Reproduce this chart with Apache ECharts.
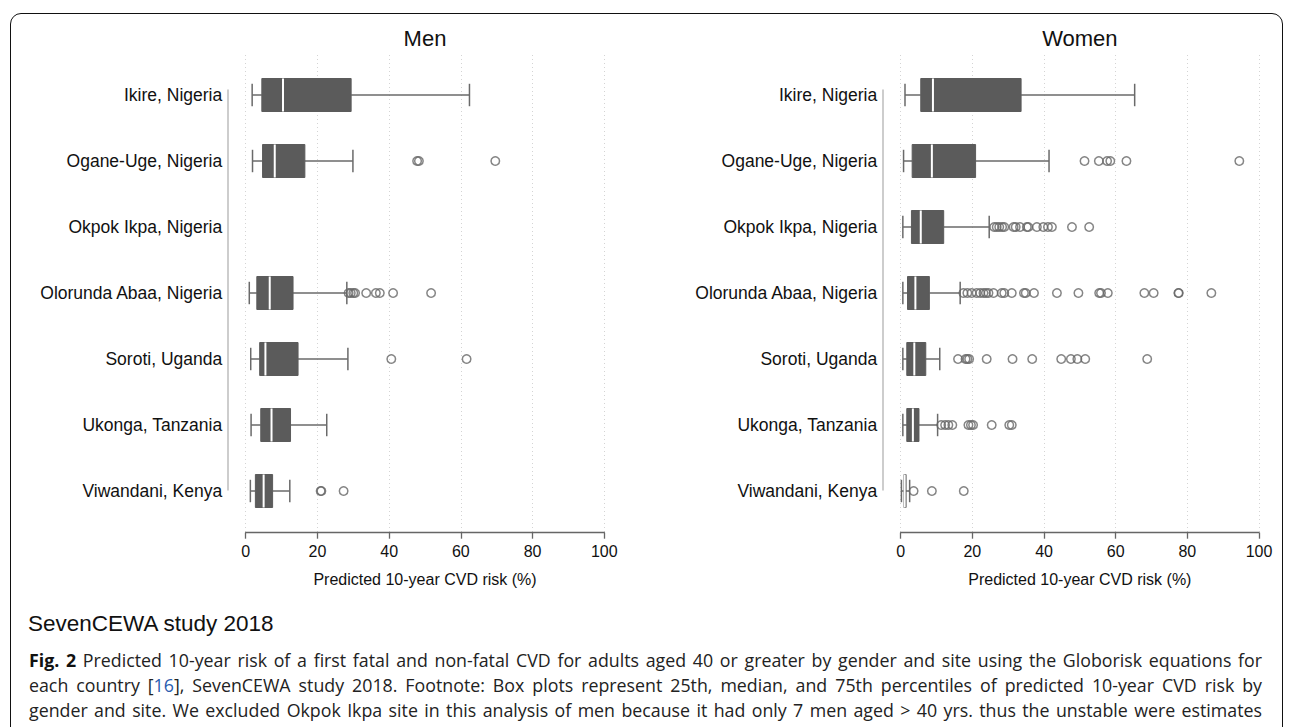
<!DOCTYPE html>
<html>
<head>
<meta charset="utf-8">
<script src="https://cdn.jsdelivr.net/npm/echarts@6/dist/echarts.min.js"></script>
<style>
  html, body { margin: 0; padding: 0; background: #fff; }
  #wrap { position: relative; width: 1290px; height: 727px; overflow: hidden; }
  #chart { position: absolute; left: 0; top: 0; width: 1290px; height: 600px; }
  #frame { position: absolute; left: 10px; top: 13px; width: 1273px; height: 740px;
           border: 1.5px solid #111; border-radius: 11px; box-sizing: border-box; }
  #study { position: absolute; left: 28px; top: 609px; font-family: 'Liberation Sans', Arial, sans-serif;
           font-size: 22.5px; color: #111; line-height: 30px; white-space: nowrap; }
  #caption { position: absolute; left: 29px; top: 648px; width: 1233px;
             font-family: 'Open Sans', sans-serif; font-size: 17.8px; color: #222; line-height: 25px; }
  #caption div { text-align: justify; text-align-last: justify; white-space: nowrap; }
  #caption b { font-weight: 700; color: #111; }
  #caption .ref { color: #2a5db0; }
</style>
</head>
<body>
<div id="wrap">
  <div id="chart"></div>
  <div id="frame"></div>
  <div id="study">SevenCEWA study 2018</div>
  <div id="caption">
    <div><b>Fig. 2</b> Predicted 10-year risk of a first fatal and non-fatal CVD for adults aged 40 or greater by gender and site using the Globorisk equations for</div>
    <div>each country [<span class="ref">16</span>], SevenCEWA study 2018. Footnote: Box plots represent 25th, median, and 75th percentiles of predicted 10-year CVD risk by</div>
    <div>gender and site. We excluded Okpok Ikpa site in this analysis of men because it had only 7 men aged &gt; 40 yrs. thus the unstable were estimates</div>
  </div>
</div>
<script>
// ---------------- DATA ----------------
const sites = ['Ikire, Nigeria', 'Ogane-Uge, Nigeria', 'Okpok Ikpa, Nigeria', 'Olorunda Abaa, Nigeria',
               'Soroti, Uganda', 'Ukonga, Tanzania', 'Viwandani, Kenya'];
const xTicks = [0, 20, 40, 60, 80, 100];

// [lower whisker, Q1, median, Q3, upper whisker] per site (null = excluded)
const menBoxes = [
  [1.8, 4.5, 10.4, 29.4, 62.4],
  [1.9, 4.7, 8.1, 16.5, 29.9],
  null,
  [1.0, 3.1, 6.7, 13.2, 28.2],
  [1.4, 3.9, 5.5, 14.6, 28.5],
  [1.5, 4.2, 7.2, 12.5, 22.6],
  [1.3, 2.7, 5.0, 7.5, 12.3]
];
const menOutliers = [
  [],
  [47.8, 48.3, 69.6],
  [],
  [28.7, 29.3, 30.0, 30.5, 33.6, 36.3, 37.4, 41.1, 51.7],
  [40.6, 61.6],
  [],
  [20.9, 21.1, 27.3]
];

const womenBoxes = [
  [1.2, 5.6, 9.0, 33.6, 65.3],
  [0.8, 3.2, 8.7, 20.9, 41.4],
  [0.6, 3.0, 5.6, 12.0, 24.7],
  [0.6, 1.9, 4.1, 8.0, 16.6],
  [0.6, 1.7, 3.8, 7.0, 10.9],
  [0.6, 1.7, 3.4, 5.1, 10.3],
  [0.2, 0.9, 1.1, 1.5, 2.5]
];
const womenOutliers = [
  [],
  [51.3, 55.3, 57.6, 58.5, 63.0, 94.5],
  [26.1, 26.8, 27.5, 28.3, 28.9, 31.5, 32.1, 33.3, 35.2, 35.6, 38.0, 39.8, 41.1, 42.2, 47.8, 52.6],
  [17.5, 18.6, 19.8, 21.2, 22.2, 23.1, 23.8, 24.5, 25.9, 28.2, 28.9, 31.0, 34.4, 34.9, 37.2, 43.6, 49.6, 55.4, 55.9, 57.8, 68.0, 70.6, 77.5, 77.6, 86.7],
  [16.0, 18.1, 18.6, 19.1, 24.0, 31.2, 36.7, 44.8, 47.5, 49.3, 51.5, 68.8],
  [11.3, 12.4, 13.3, 14.4, 18.9, 19.6, 20.2, 25.4, 30.3, 31.0],
  [3.6, 8.7, 17.6]
];

// ---------------- LAYOUT ----------------
const FONT = "'Liberation Sans', Arial, sans-serif";
const panels = [
  { title: 'Men', left: 245.7, width: 358.6, boxes: menBoxes, outliers: menOutliers },
  { title: 'Women', left: 900.7, width: 358.3, boxes: womenBoxes, outliers: womenOutliers }
];

const BOX_FILL = '#5b5b5b';
const LINE_COL = '#6a6a6a';

function renderBox(params, api) {
  const ci = api.value(0);
  const lo = api.value(1), q1 = api.value(2), md = api.value(3), q3 = api.value(4), hi = api.value(5);
  const band = api.size([0, 1])[1];
  const pLo = api.coord([lo, ci]), pQ1 = api.coord([q1, ci]), pMd = api.coord([md, ci]);
  const pQ3 = api.coord([q3, ci]), pHi = api.coord([hi, ci]);
  const y = pLo[1];
  const bh = band * 0.5, ch = band * 0.34;
  const ls = { stroke: LINE_COL, lineWidth: 1.5 };
  const boxW = Math.max(pQ3[0] - pQ1[0], 1);
  return {
    type: 'group',
    children: [
      { type: 'line', shape: { x1: pLo[0], y1: y, x2: pQ1[0], y2: y }, style: ls },
      { type: 'line', shape: { x1: pQ3[0], y1: y, x2: pHi[0], y2: y }, style: ls },
      { type: 'line', shape: { x1: pLo[0], y1: y - ch / 2, x2: pLo[0], y2: y + ch / 2 }, style: ls },
      { type: 'line', shape: { x1: pHi[0], y1: y - ch / 2, x2: pHi[0], y2: y + ch / 2 }, style: ls },
      { type: 'rect', shape: { x: pQ1[0], y: y - bh / 2, width: boxW, height: bh },
        style: { fill: BOX_FILL, stroke: BOX_FILL, lineWidth: 1 } },
      { type: 'line', shape: { x1: pMd[0], y1: y - bh / 2, x2: pMd[0], y2: y + bh / 2 },
        style: { stroke: '#ffffff', lineWidth: 2 } }
    ]
  };
}

const grid = [], xAxis = [], yAxis = [], series = [], graphic = [];
panels.forEach((p, k) => {
  const gA = grid.length;
  grid.push({ left: p.left, width: p.width, top: 62, height: 462 });   // data grid
  grid.push({ left: p.left, width: p.width, top: 55, height: 477.7 }); // gridlines
  grid.push({ left: p.left, width: p.width, top: 90, height: 400 });   // y-axis line

  xAxis.push({
    gridIndex: gA, type: 'value', min: 0, max: 100, interval: 20, offset: 8.7,
    axisLine: { show: true, onZero: false, lineStyle: { color: '#666', width: 1.3 } },
    axisTick: { show: true, length: 6, lineStyle: { color: '#666', width: 1.3 } },
    axisLabel: { margin: 11, fontSize: 16, color: '#111', fontFamily: FONT,
                 formatter: v => String(xTicks[xTicks.indexOf(v)]) },
    splitLine: { show: false },
    name: 'Predicted 10-year CVD risk (%)', nameLocation: 'middle', nameGap: 39,
    nameTextStyle: { fontSize: 16, color: '#111', fontFamily: FONT }
  });
  xAxis.push({
    gridIndex: gA + 1, type: 'value', min: 0, max: 100, interval: 20,
    axisLine: { show: false }, axisTick: { show: false }, axisLabel: { show: false },
    splitLine: { show: true, lineStyle: { color: '#d4d4d4', width: 1, type: [1, 3] } }
  });
  xAxis.push({
    gridIndex: gA + 2, type: 'value', min: 0, max: 100, show: false
  });

  yAxis.push({
    gridIndex: gA, type: 'category', data: sites, inverse: true,
    axisLine: { show: false }, axisTick: { show: false }, splitLine: { show: false },
    axisLabel: { margin: 23.5, fontSize: 17.5, color: '#111', fontFamily: FONT }
  });
  yAxis.push({
    gridIndex: gA + 1, type: 'value', min: 0, max: 1, show: false,
    axisLine: { show: false }, splitLine: { show: false }
  });
  yAxis.push({
    gridIndex: gA + 2, type: 'value', min: 0, max: 1, offset: 17.5,
    axisLine: { show: true, onZero: false, lineStyle: { color: '#bdbdbd', width: 1.5 } },
    axisTick: { show: false }, axisLabel: { show: false }, splitLine: { show: false }
  });

  const boxData = [];
  p.boxes.forEach((b, i) => { if (b) boxData.push([i].concat(b)); });
  series.push({
    type: 'custom', xAxisIndex: gA, yAxisIndex: gA, renderItem: renderBox,
    encode: { x: [1, 2, 3, 4, 5], y: 0 }, data: boxData, z: 3
  });

  const outData = [];
  p.outliers.forEach((arr, i) => arr.forEach(v => outData.push([v, i])));
  series.push({
    type: 'scatter', xAxisIndex: gA, yAxisIndex: gA, data: outData,
    symbol: 'circle', symbolSize: 8.5, z: 4,
    itemStyle: { color: 'rgba(255,255,255,0)', borderColor: '#666', borderWidth: 1.5 }
  });

  graphic.push({
    type: 'text', x: p.left + p.width / 2, y: 38,
    style: { text: p.title, fontSize: 22, fontFamily: FONT, fill: '#111',
             textAlign: 'center', textVerticalAlign: 'middle' }
  });
});

const chart = echarts.init(document.getElementById('chart'), null, { renderer: 'svg' });
chart.setOption({
  animation: false,
  backgroundColor: 'transparent',
  grid, xAxis, yAxis, series, graphic
});
</script>
</body>
</html>
